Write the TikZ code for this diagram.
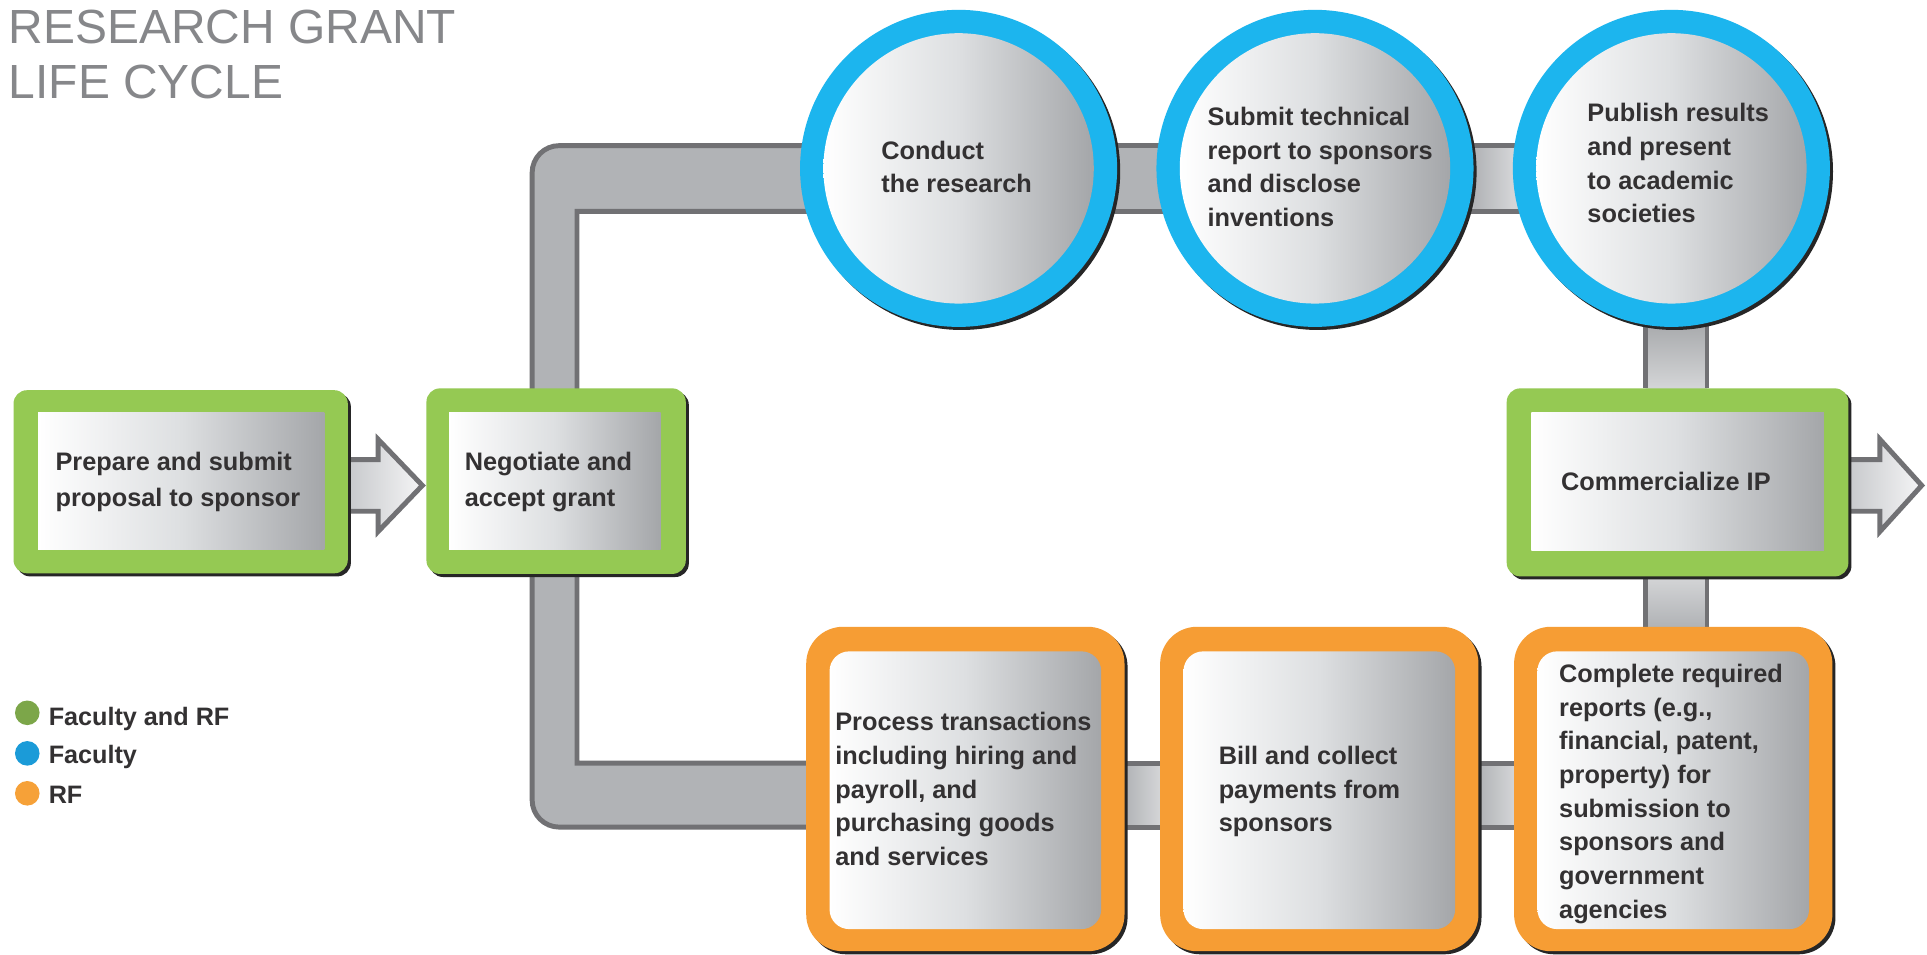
\documentclass[tikz,border=0pt]{standalone}
\usepackage{fontspec}
\setmainfont{Liberation Sans}
\usetikzlibrary{shadows,calc}
\definecolor{gfill}{HTML}{95C953}
\definecolor{bfill}{HTML}{1CB5EE}
\definecolor{ofill}{HTML}{F69D34}
\definecolor{pfill}{HTML}{B1B3B6}
\definecolor{plight}{HTML}{D4D5D7}
\definecolor{pline}{HTML}{717174}
\definecolor{tcol}{HTML}{333132}
\definecolor{titlec}{HTML}{86878A}
\definecolor{gmid}{HTML}{DDDFE1}
\definecolor{gdark}{HTML}{A4A6A9}
\definecolor{lgreen}{HTML}{7CA649}
\definecolor{lblue}{HTML}{1B9BD8}
\definecolor{lorange}{HTML}{F6A138}
\definecolor{aleft}{HTML}{C3C5C8}
\definecolor{aright}{HTML}{F5F5F6}
\pgfdeclarelayer{background}
\pgfsetlayers{background,main}
\newcommand{\fl}{\rule{0pt}{16pt}}
\begin{document}
\begin{tikzpicture}[x=1pt,y=-1pt,
  sh/.style={drop shadow={shadow xshift=2.5pt,shadow yshift=-2.5pt,opacity=1,fill=black!85}},
  gbox/.style={rectangle,rounded corners=11pt,fill=gfill,sh,inner sep=0},
  obox/.style={rectangle,rounded corners=30pt,fill=ofill,sh,inner sep=0},
  ring/.style={circle,fill=bfill,sh,inner sep=0,minimum size=258pt},
  grad/.style={left color=white,right color=gdark,middle color=gmid},
  ginner/.style={rectangle,grad,inner sep=0},
  oinner/.style={rectangle,rounded corners=16pt,grad,inner sep=0},
  cinner/.style={circle,grad,inner sep=0,minimum size=220pt},
  lbl/.style={anchor=north west,inner sep=0,align=left,text=tcol,font=\bfseries\fontsize{20.6}{27.4}\selectfont},
  lblg/.style={lbl,font=\bfseries\fontsize{20.6}{29}\selectfont},
  legt/.style={anchor=base west,inner sep=0,text=tcol,font=\bfseries\fontsize{20.5}{24}\selectfont},
  dot/.style={circle,inner sep=0,minimum size=20pt},
  pipe/.style={fill=pfill,draw=pline,line width=4pt},
  pedge/.style={draw=pline,line width=4pt},
  barrow/.style={draw=pline,line width=4pt,line join=miter,left color=aleft,right color=aright},
  ttl/.style={anchor=base west,inner sep=0,text=titlec,font=\fontsize{39}{45}\selectfont}
]
\begin{pgfonlayer}{background}
  \fill[white] (0,0) rectangle (1568,777);
\end{pgfonlayer}
\useasboundingbox (0,0) rectangle (1568,777);

% title
\node[ttl] (ti1) at (7,35.3) {RESEARCH GRANT};
\node[ttl] (ti2) at (7,80) {LIFE CYCLE};

% green boxes
\node[gbox,minimum width=272pt,minimum height=149pt] (b1) at (147,392) {};
\node[ginner,minimum width=233pt,minimum height=111pt] (b1i) at (147.5,391.5) {};
\node[lblg] (t1) at (45,367) {\fl Prepare and submit\\proposal to sponsor};

\node[gbox,minimum width=211pt,minimum height=151pt] (b2) at (452.5,391.5) {};
\node[ginner,minimum width=172pt,minimum height=112pt] (b2i) at (451.5,391.5) {};
\node[lblg] (t2) at (378,367) {\fl Negotiate and\\accept grant};

\node[gbox,minimum width=278pt,minimum height=153pt] (bc) at (1365,392.5) {};
\node[ginner,minimum width=238pt,minimum height=112pt] (bci) at (1365,392) {};
\node[lbl] (tc) at (1270,382.7) {\fl Commercialize IP};

% circles
\node[ring] (c1) at (780,137) {};
\node[cinner] (c1i) at (c1) {};
\node[lbl] (tc1) at (717,113.4) {\fl Conduct\\the research};

\node[ring] (c2) at (1070,137) {};
\node[cinner] (c2i) at (c2) {};
\node[lbl] (tc2) at (982.5,86) {\fl Submit technical\\report to sponsors\\and disclose\\inventions};

\node[ring] (c3) at (1360,137) {};
\node[cinner] (c3i) at (c3) {};
\node[lbl] (tc3) at (1291.5,83) {\fl Publish results\\and present\\to academic\\societies};

% orange boxes
\node[obox,minimum width=259pt,minimum height=264pt] (o1) at (785.5,642) {};
\node[oinner,minimum width=221pt,minimum height=226pt] (o1i) at (785.5,643) {};
\node[lbl] (to1) at (679.5,578.5) {\fl Process transactions\\including hiring and\\payroll, and\\purchasing goods\\and services};

\node[obox,minimum width=259pt,minimum height=264pt] (o2) at (1073.5,642) {};
\node[oinner,minimum width=221pt,minimum height=226pt] (o2i) at (1073.5,643) {};
\node[lbl] (to2) at (991.5,605.9) {\fl Bill and collect\\payments from\\sponsors};

\node[obox,minimum width=259pt,minimum height=264pt] (o3) at (1361.5,642) {};
\node[oinner,minimum width=221pt,minimum height=226pt] (o3i) at (1361.5,643) {};
\node[lbl] (to3) at (1268.5,539.2) {\fl Complete required\\reports (e.g.,\\financial, patent,\\property) for\\submission to\\sponsors and\\government\\agencies};

% legend
\node[dot,fill=lgreen] (d1) at (22.2,580) {};
\node[dot,fill=lblue] (d2) at (22.2,613) {};
\node[dot,fill=lorange] (d3) at (22.2,645.5) {};
\node[legt] (lt1) at (39.5,590) {Faculty and RF};
\node[legt] (lt2) at (39.5,621.5) {Faculty};
\node[legt] (lt3) at (39.5,653.6) {RF};

% connectors (pipes and arrows) behind
\coordinate (pL) at (433,0);
\coordinate (pR) at (469.5,0);
\coordinate (tT) at (0,118.5);
\coordinate (tB) at (0,172);
\coordinate (bT) at (0,621);
\coordinate (bB) at (0,673);
\coordinate (vL) at (1339,0);
\coordinate (vR) at (1389,0);
\coordinate (c3b) at ([yshift=8pt]c3.south);
\begin{pgfonlayer}{background}
  \draw[pipe] (b2.center -| pL) -- (433,140.5) arc[start angle=180,end angle=270,radius=22]
     -- (c1.center |- tT) -- (c1.center |- tB) -- (pR |- tB) -- (b2.center -| pR) -- cycle;
  \draw[pipe] (b2.center -| pR) -- (pR |- bT) -- (o1.center |- bT) -- (o1.center |- bB)
     -- (455,673) arc[start angle=90,end angle=180,radius=22] -- (b2.center -| pL) -- cycle;
  % between circles
  \fill[pfill] (c1.center |- tT) rectangle (c2.center |- tB);
  \draw[pedge] (c1.center |- tT) -- (c2.center |- tT) (c1.center |- tB) -- (c2.center |- tB);
  \fill[left color=pfill,right color=plight] (c2.east |- tT) rectangle (c3.west |- tB);
  \fill[pfill!80!plight] (c2.center |- tT) rectangle (c2.east |- tB);
  \fill[plight] (c3.west |- tT) rectangle (c3.center |- tB);
  \draw[pedge] (c2.center |- tT) -- (c3.center |- tT) (c2.center |- tB) -- (c3.center |- tB);
  % right vertical
  \fill[top color=pfill!90!black!95,bottom color=plight] (vL |- c3b) rectangle (vR |- bc.north);
  \draw[pedge] (vL |- c3b) -- (vL |- bc.north) (vR |- c3b) -- (vR |- bc.north);
  \fill[top color=plight,bottom color=pfill] (vL |- bc.south) rectangle (vR |- o3.north);
  \draw[pedge] (vL |- bc.south) -- (vL |- o3.north) (vR |- bc.south) -- (vR |- o3.north);
  % bottom
  \fill[left color=pfill,right color=plight] (o1.east |- bT) rectangle (o2.west |- bB);
  \draw[pedge] (o1.center |- bT) -- (o2.center |- bT) (o1.center |- bB) -- (o2.center |- bB);
  \fill[left color=pfill,right color=plight] (o2.east |- bT) rectangle (o3.west |- bB);
  \draw[pedge] (o2.center |- bT) -- (o3.center |- bT) (o2.center |- bB) -- (o3.center |- bB);
  % block arrows
  \draw[barrow] ([xshift=-6pt,yshift=-3pt]b1.east) ++(0,-21) -- ++(30.5,0) -- ++(0,-16.5)
     -- ++(36,37.5) -- ++(-36,37.5) -- ++(0,-16.5) -- ++(-30.5,0) -- cycle;
  \draw[barrow] ([xshift=-6pt,yshift=-2.5pt]bc.east) ++(0,-21) -- ++(31.5,0) -- ++(0,-16.5)
     -- ++(34,37.5) -- ++(-34,37.5) -- ++(0,-16.5) -- ++(-31.5,0) -- cycle;
\end{pgfonlayer}
\end{tikzpicture}
\end{document}
